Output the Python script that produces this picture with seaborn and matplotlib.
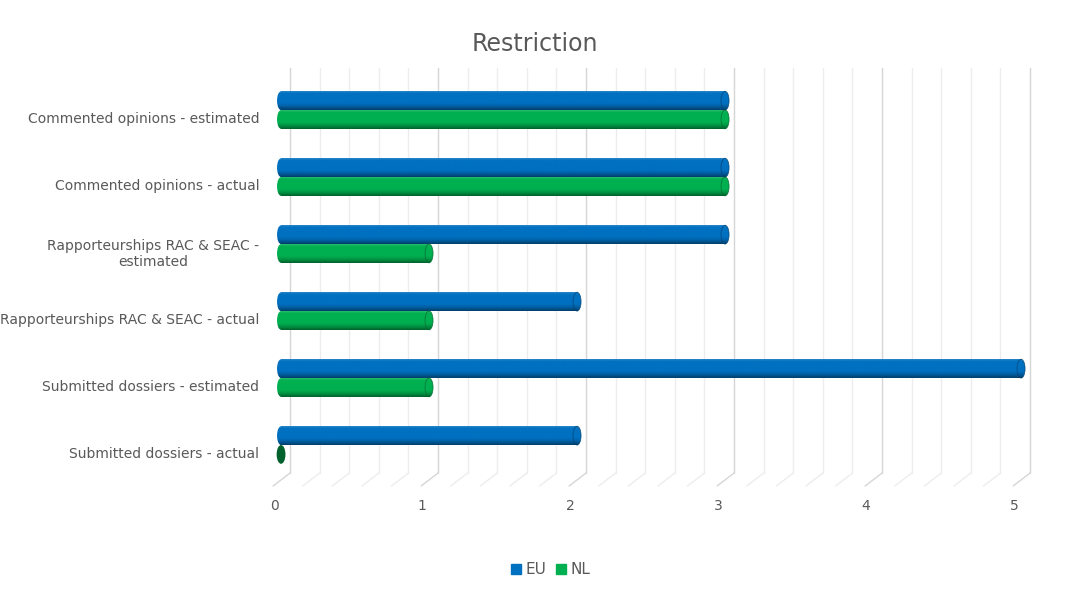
import matplotlib
matplotlib.use("Agg")
import matplotlib.pyplot as plt
import matplotlib.transforms as mtransforms
from matplotlib.patches import Ellipse, Rectangle
from matplotlib.lines import Line2D
import numpy as np
import pandas as pd
import seaborn as sns

# ------------------------------------------------------------------------------
# Data
# ------------------------------------------------------------------------------
categories = [
    "Commented opinions - estimated",
    "Commented opinions - actual",
    "Rapporteurships RAC & SEAC -\nestimated",
    "Rapporteurships RAC & SEAC - actual",
    "Submitted dossiers - estimated",
    "Submitted dossiers - actual",
]
series = ["EU", "NL"]
eu_values = [3, 3, 3, 2, 5, 2]
nl_values = [3, 3, 1, 1, 1, 0]
x_ticks = [0, 1, 2, 3, 4, 5]

colors = {"EU": "#0070C0", "NL": "#00B050"}
text_color = "#595959"

df = pd.DataFrame({
    "category": categories * 2,
    "series": ["EU"] * len(categories) + ["NL"] * len(categories),
    "value": eu_values + nl_values,
})

sns.set_theme(style="white")
plt.rcParams["font.family"] = ["DejaVu Sans"]

fig = plt.figure(figsize=(10.74, 6.01), dpi=100)
ax = fig.add_axes([0.2479, 0.1913, 0.7166, 0.6955])

sns.barplot(data=df, x="value", y="category", hue="series", order=categories,
            hue_order=series, palette=colors, orient="h", width=0.56,
            saturation=1, errorbar=None, legend=False, ax=ax)

XLIM = (-0.1, 5.1)
YLIM = (5.612, -0.627)
PX = 1 / 148.0  # data units per pixel along x
CAP = 8 * PX    # width of the rounded bar ends

# fake 3D gridlines: back wall + floor diagonals
for v in np.arange(0, 5.001, 0.2):
    major = abs(v - round(v)) < 1e-6
    c = "#d6d6d6" if major else "#ededed"
    ax.plot([v + 9 * PX] * 2, [YLIM[1], 5.418], color=c, lw=1, zorder=0.5, clip_on=False)
    ax.plot([v + 9 * PX, v - 8 * PX], [5.418, 5.612], color=c, lw=1, zorder=0.5, clip_on=False)

# cylinder shading for each bar
t = np.linspace(0, 1, 48)
for patch in list(ax.patches):
    x0, y0 = patch.get_x(), patch.get_y()
    w, h = patch.get_width(), patch.get_height()
    base = np.array(patch.get_facecolor()[:3])
    light = base + (1 - base) * 0.15
    dark = base * 0.55
    grad = np.empty((len(t), 1, 3))
    for i, ti in enumerate(t):
        if ti < 0.12:
            c = light + (base - light) * (ti / 0.12)
        elif ti < 0.6:
            c = base
        else:
            c = base + (dark - base) * ((ti - 0.6) / 0.4) ** 1.5
        grad[i, 0] = c
    patch.set_visible(False)
    if w <= 0:
        ax.add_patch(Ellipse((x0, y0 + h / 2), CAP * 1.1, h, facecolor=base * 0.55,
                             edgecolor="none", zorder=3))
        continue
    shapes = [
        Ellipse((x0, y0 + h / 2), CAP, h, transform=ax.transData),
        Rectangle((x0, y0), w, h, transform=ax.transData),
        Ellipse((x0 + w, y0 + h / 2), CAP, h, transform=ax.transData),
    ]
    for shp in shapes:
        im = ax.imshow(grad, extent=(x0 - CAP, x0 + w + CAP, y0 + h, y0), aspect="auto",
                       interpolation="bilinear", zorder=3)
        im.set_clip_path(shp)
    ax.add_patch(Ellipse((x0 + w, y0 + h / 2), CAP, h, facecolor="none",
                         edgecolor=base * 0.6, lw=0.6, alpha=0.8, zorder=4))

ax.set_xlim(*XLIM)
ax.set_ylim(*YLIM)
ax.set_aspect("auto")
ax.set_xlabel("")
ax.set_ylabel("")
sns.despine(ax=ax, left=True, bottom=True)

ax.set_xticks(x_ticks)
ax.tick_params(axis="x", length=0, pad=9, labelsize=10, labelcolor=text_color)
ax.tick_params(axis="y", length=0, pad=5, labelsize=10, labelcolor=text_color)
for lbl in ax.get_xticklabels():
    lbl.set_transform(lbl.get_transform() + mtransforms.ScaledTranslation(-0.07, 0, fig.dpi_scale_trans))
for lbl in ax.get_yticklabels():
    lbl.set_multialignment("center")
    lbl.set_transform(lbl.get_transform() + mtransforms.ScaledTranslation(0, -0.07, fig.dpi_scale_trans))

fig.text(0.498, 1 - 44 / 601, "Restriction", ha="center", va="center",
         fontsize=17, color=text_color)

handles = [Line2D([], [], marker="s", linestyle="none", markersize=6.5, color=colors[s])
           for s in series]
fig.legend(handles, series, loc="center", bbox_to_anchor=(550 / 1074, 1 - 570 / 601),
           ncol=2, frameon=False, handlelength=0.8, handletextpad=0.2,
           columnspacing=0.6, fontsize=11, labelcolor=text_color)

fig.savefig("out.png", dpi=100)
